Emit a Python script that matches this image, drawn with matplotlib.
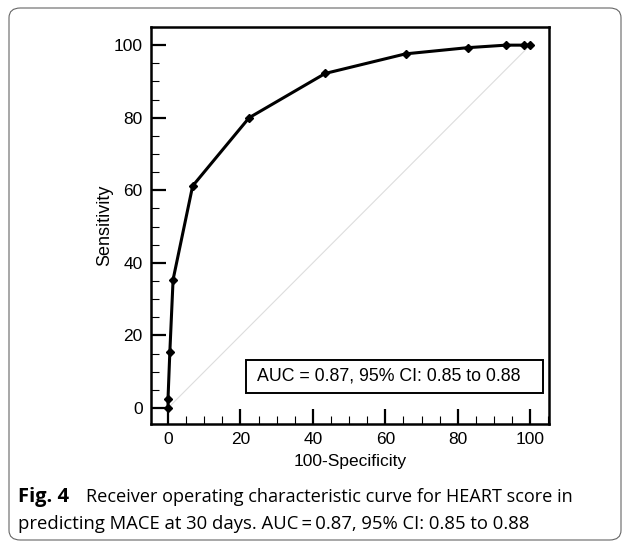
import matplotlib.pyplot as plt
import matplotlib.patches as mpatches
from matplotlib.ticker import MultipleLocator

# Puntos de la curva ROC (100-especificidad, sensibilidad)
fpr = [0, 0, 0.5, 1.4, 6.8, 22.4, 43.4, 65.6, 82.7, 93.3, 98.3, 100]
sens = [0, 2.6, 15.4, 35.4, 61.2, 80.0, 92.2, 97.6, 99.3, 100, 100, 100]
auc_texto = 'AUC = 0.87, 95% CI: 0.85 to 0.88'

fig = plt.figure(figsize=(6.3, 5.41), dpi=100)
plt.rcParams['font.family'] = ['Liberation Sans', 'DejaVu Sans']

# marco redondeado exterior
marco = mpatches.FancyBboxPatch((9 / 630, 1 / 541), 612 / 630, 532 / 541,
                                boxstyle='round,pad=0,rounding_size=0.018',
                                transform=fig.transFigure, fill=False,
                                edgecolor='#666666', linewidth=0.8)
fig.patches.append(marco)

ax = fig.add_axes([151 / 630, 117 / 541, 398 / 630, 397 / 541])
ax.plot([0, 100], [0, 100], color='#dddddd', linewidth=0.8)
ax.plot(fpr, sens, color='black', linewidth=2.2, marker='D', markersize=3.8)

ax.set_xlim(-4.7, 105.2)
ax.set_ylim(-4.4, 105)
ax.xaxis.set_major_locator(MultipleLocator(20))
ax.yaxis.set_major_locator(MultipleLocator(20))
ax.xaxis.set_minor_locator(MultipleLocator(5))
ax.yaxis.set_minor_locator(MultipleLocator(5))
ax.tick_params(which='major', direction='in', length=11, width=1.6, labelsize=12.5, pad=6)
ax.tick_params(which='minor', direction='in', length=5.5, width=0.8)
for s in ax.spines.values():
    s.set_linewidth(1.8)

ax.set_xlabel('100-Specificity', fontsize=12.5, labelpad=5)
ax.set_ylabel('Sensitivity', fontsize=13, labelpad=0)

# recuadro del AUC
caja = mpatches.Rectangle((21.5, 4.2), 82.0, 9.0, fill=False, edgecolor='black',
                          linewidth=1.4, zorder=3)
ax.add_patch(caja)
ax.text(24.5, 8.7, auc_texto, ha='left', va='center', fontsize=12.8, zorder=4)

# pie de figura
fig.text(18 / 630, 1 - 497 / 541, 'Fig. 4', fontsize=14.5, fontweight='bold',
         family='Open Sans', va='center', ha='left')
fig.text(86 / 630, 1 - 497 / 541, 'Receiver operating characteristic curve for HEART score in',
         fontsize=13.1, family='Open Sans', va='center', ha='left')
fig.text(18 / 630, 1 - 524 / 541, 'predicting MACE at 30 days. AUC\u2009=\u20090.87, 95% CI: 0.85 to 0.88',
         fontsize=13.3, family=['Open Sans', 'DejaVu Sans'], va='center', ha='left')

fig.savefig('out.png', dpi=100)
